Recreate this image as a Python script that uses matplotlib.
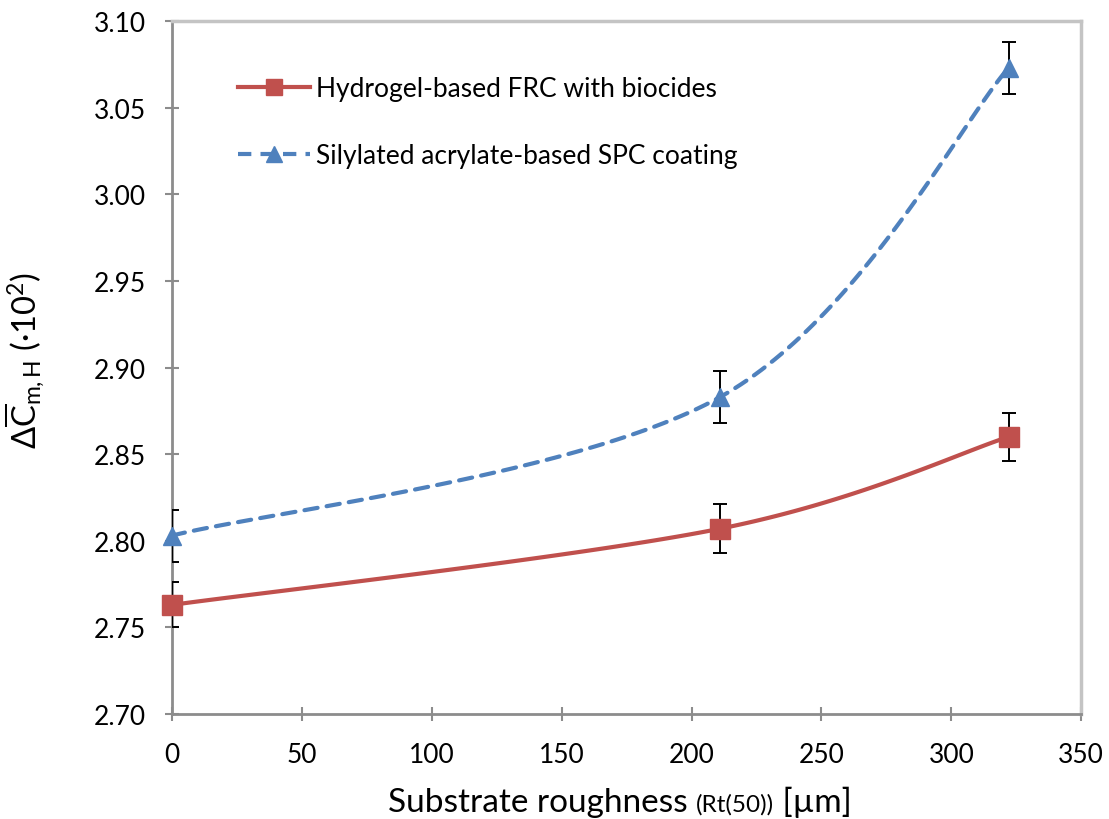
import numpy as np
import matplotlib
matplotlib.use("Agg")
import matplotlib.pyplot as plt
from matplotlib.lines import Line2D

plt.rcParams['font.family'] = ['Lato', 'DejaVu Sans']
plt.rcParams['mathtext.fontset'] = 'custom'
plt.rcParams['mathtext.rm'] = 'Lato'
plt.rcParams['mathtext.it'] = 'Lato:italic'

# Data
roughness = [0, 211, 322]
frc_values = [2.763, 2.807, 2.860]
frc_err = [0.013, 0.014, 0.014]
spc_values = [2.803, 2.883, 3.073]
spc_err = [0.015, 0.015, 0.015]
labels = ["Hydrogel-based FRC with biocides", "Silylated acrylate-based SPC coating"]

RED = "#C0504D"
BLUE = "#4F81BD"

fig = plt.figure(figsize=(11.09, 8.20), dpi=100)
ax = fig.add_axes([0.155, 0.128, 0.820, 0.845])
ax.set_xlim(0, 350)
ax.set_ylim(2.70, 3.10)
ax.set_xticks(np.arange(0, 351, 50))
ax.set_yticks(np.arange(2.70, 3.101, 0.05))
ax.yaxis.set_major_formatter(matplotlib.ticker.FormatStrFormatter('%.2f'))


def smooth_curve(x, y, n=60):
    """Spline through the points, built in screen space (Bezier, tension 1/6)."""
    pts = ax.transData.transform(np.column_stack([x, y]))
    P = np.vstack([pts[0], pts, pts[-1]])
    out = []
    for i in range(1, len(P) - 2):
        p0, p1 = P[i], P[i + 1]
        c1 = p0 + (P[i + 1] - P[i - 1]) / 6.0
        c2 = p1 - (P[i + 2] - P[i]) / 6.0
        t = np.linspace(0, 1, n)[:, None]
        seg = ((1 - t) ** 3) * p0 + 3 * ((1 - t) ** 2) * t * c1 + 3 * (1 - t) * t ** 2 * c2 + t ** 3 * p1
        out.append(seg if i == 1 else seg[1:])
    out = np.vstack(out)
    d = ax.transData.inverted().transform(out)
    return d[:, 0], d[:, 1]


sx, sy = smooth_curve(roughness, frc_values)
ax.plot(sx, sy, color=RED, lw=3.0, solid_capstyle='round', zorder=3)
bx, by = smooth_curve(roughness, spc_values)
ax.plot(bx, by, color=BLUE, lw=3.0, dashes=(3.2, 2.2), dash_capstyle='round', zorder=3)

ax.errorbar(roughness, frc_values, yerr=frc_err, fmt='none', ecolor='black',
            elinewidth=1.4, capsize=5, capthick=1.4, zorder=4)
ax.errorbar(roughness, spc_values, yerr=spc_err, fmt='none', ecolor='black',
            elinewidth=1.4, capsize=5, capthick=1.4, zorder=4)

ax.plot(roughness, frc_values, linestyle='none', marker='s', ms=14.5, color=RED,
        mec=RED, zorder=5, clip_on=False)
ax.plot(roughness, spc_values, linestyle='none', marker='^', ms=13, color=BLUE,
        mec=BLUE, zorder=5, clip_on=False)

# Axis styling
for side in ('left', 'bottom'):
    ax.spines[side].set_color('#8C8C8C')
    ax.spines[side].set_linewidth(2.0)
for side in ('top', 'right'):
    ax.spines[side].set_color('#C4C4C4')
    ax.spines[side].set_linewidth(2.5)
ax.tick_params(axis='both', direction='inout', length=10, width=1.5,
               color='#8C8C8C', labelsize=19, labelcolor='black')
ax.tick_params(axis='x', pad=15)
ax.tick_params(axis='y', pad=14)

ax.set_ylabel(r'$\Delta\overline{\mathrm{C}}_{\mathrm{m,H}}$ (·10$^2$)', fontsize=23.5)
ax.yaxis.set_label_coords(-0.138, 0.512)

# X label with a smaller inline part
fig.canvas.draw()
renderer = fig.canvas.get_renderer()
parts = [("Substrate roughness ", 24), ("(Rt(50))", 17.5), (" [µm]", 24)]
widths = []
for s, fs in parts:
    tt = fig.text(0, 0, s, fontsize=fs)
    widths.append(tt.get_window_extent(renderer).width)
    tt.remove()
total = sum(widths)
xpos = 620 - total / 2.0
y0 = 820 - 812
for (s, fs), w in zip(parts, widths):
    fig.text(xpos / 1109.0, y0 / 820.0, s, fontsize=fs, ha='left', va='baseline')
    xpos += w

handles = [
    Line2D([], [], color=RED, lw=3.0, marker='s', ms=12),
    Line2D([], [], color=BLUE, lw=3.0, dashes=(3.2, 2.2), marker='^', ms=12),
]
leg = ax.legend(handles, labels, loc='upper left', bbox_to_anchor=(0.0614, 0.936),
                frameon=False, fontsize=19, handlelength=2.7, handletextpad=0.23,
                labelspacing=1.6, borderaxespad=0)

fig.savefig("out.png", dpi=100)
